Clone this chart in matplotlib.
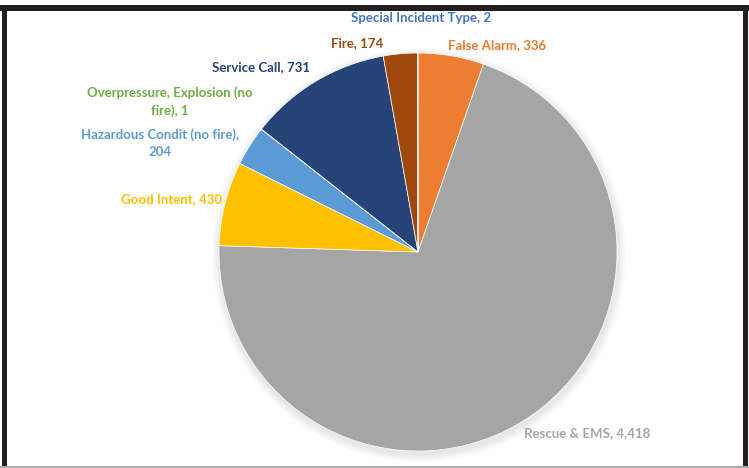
import matplotlib.pyplot as plt
from matplotlib.patches import Circle, Rectangle

# incident counts, clockwise from 12 o'clock
categories = ["False Alarm", "Rescue & EMS", "Good Intent", "Hazardous Condit (no fire)",
              "Overpressure, Explosion (no fire)", "Service Call", "Fire", "Special Incident Type"]
counts = [336, 4418, 430, 204, 1, 731, 174, 2]
colors = ["#ED7D31", "#A5A5A5", "#FFC000", "#5B9BD5", "#70AD47", "#264478", "#9E480E", "#4472C4"]

# label text lines and their spots (pixels from top-left)
label_text = {
    "False Alarm": "False Alarm, {}",
    "Rescue & EMS": "Rescue & EMS, {}",
    "Good Intent": "Good Intent, {}",
    "Hazardous Condit (no fire)": "Hazardous Condit (no fire),\n{}",
    "Overpressure, Explosion (no fire)": "Overpressure, Explosion (no\nfire), {}",
    "Service Call": "Service Call, {}",
    "Fire": "Fire, {}",
    "Special Incident Type": "Special Incident Type, {}",
}
label_pos = {
    "False Alarm": (497, 45),
    "Rescue & EMS": (587, 433),
    "Good Intent": (172, 199),
    "Hazardous Condit (no fire)": (160, 143),
    "Overpressure, Explosion (no fire)": (170, 102),
    "Service Call": (261, 67),
    "Fire": (357, 43),
    "Special Incident Type": (421, 18),
}

W, H = 749, 468
fig = plt.figure(figsize=(W / 100, H / 100), dpi=100)
ax = fig.add_axes([0, 0, 1, 1])
ax.set_xlim(0, W)
ax.set_ylim(0, H)
ax.set_aspect("equal")
ax.axis("off")

cx, cy, r = 418, H - 252, 199

# soft shadow under the pie
for i in range(8):
    ax.add_patch(Circle((cx + 1, cy - 3), r + 8 - i, color="black", alpha=0.012, lw=0, zorder=1))

ax.pie(counts, colors=colors, startangle=90, counterclock=False, radius=r, center=(cx, cy),
       frame=True, wedgeprops=dict(edgecolor="white", linewidth=0.5, zorder=2))
ax.set_xlim(0, W)
ax.set_ylim(0, H)
ax.axis("off")

for name, val, col in zip(categories, counts, colors):
    x, y = label_pos[name]
    ax.text(x, H - y, label_text[name].format(f"{val:,}"), color=col, ha="center", va="center",
            fontsize=9.5, fontweight="bold", family="Lato", linespacing=1.5, zorder=5)

# frame around the chart
ax.add_patch(Rectangle((0, H - 11), W, 6, color="#231f20", lw=0, zorder=6))
ax.add_patch(Rectangle((2, 0), 5, H - 5, color="#231f20", lw=0, zorder=6))
ax.add_patch(Rectangle((743, 0), 5, H - 5, color="#231f20", lw=0, zorder=6))
ax.add_patch(Rectangle((0, 0), W, 2, color="#aaaaaa", lw=0, zorder=6))

fig.savefig("out.png", dpi=100)
